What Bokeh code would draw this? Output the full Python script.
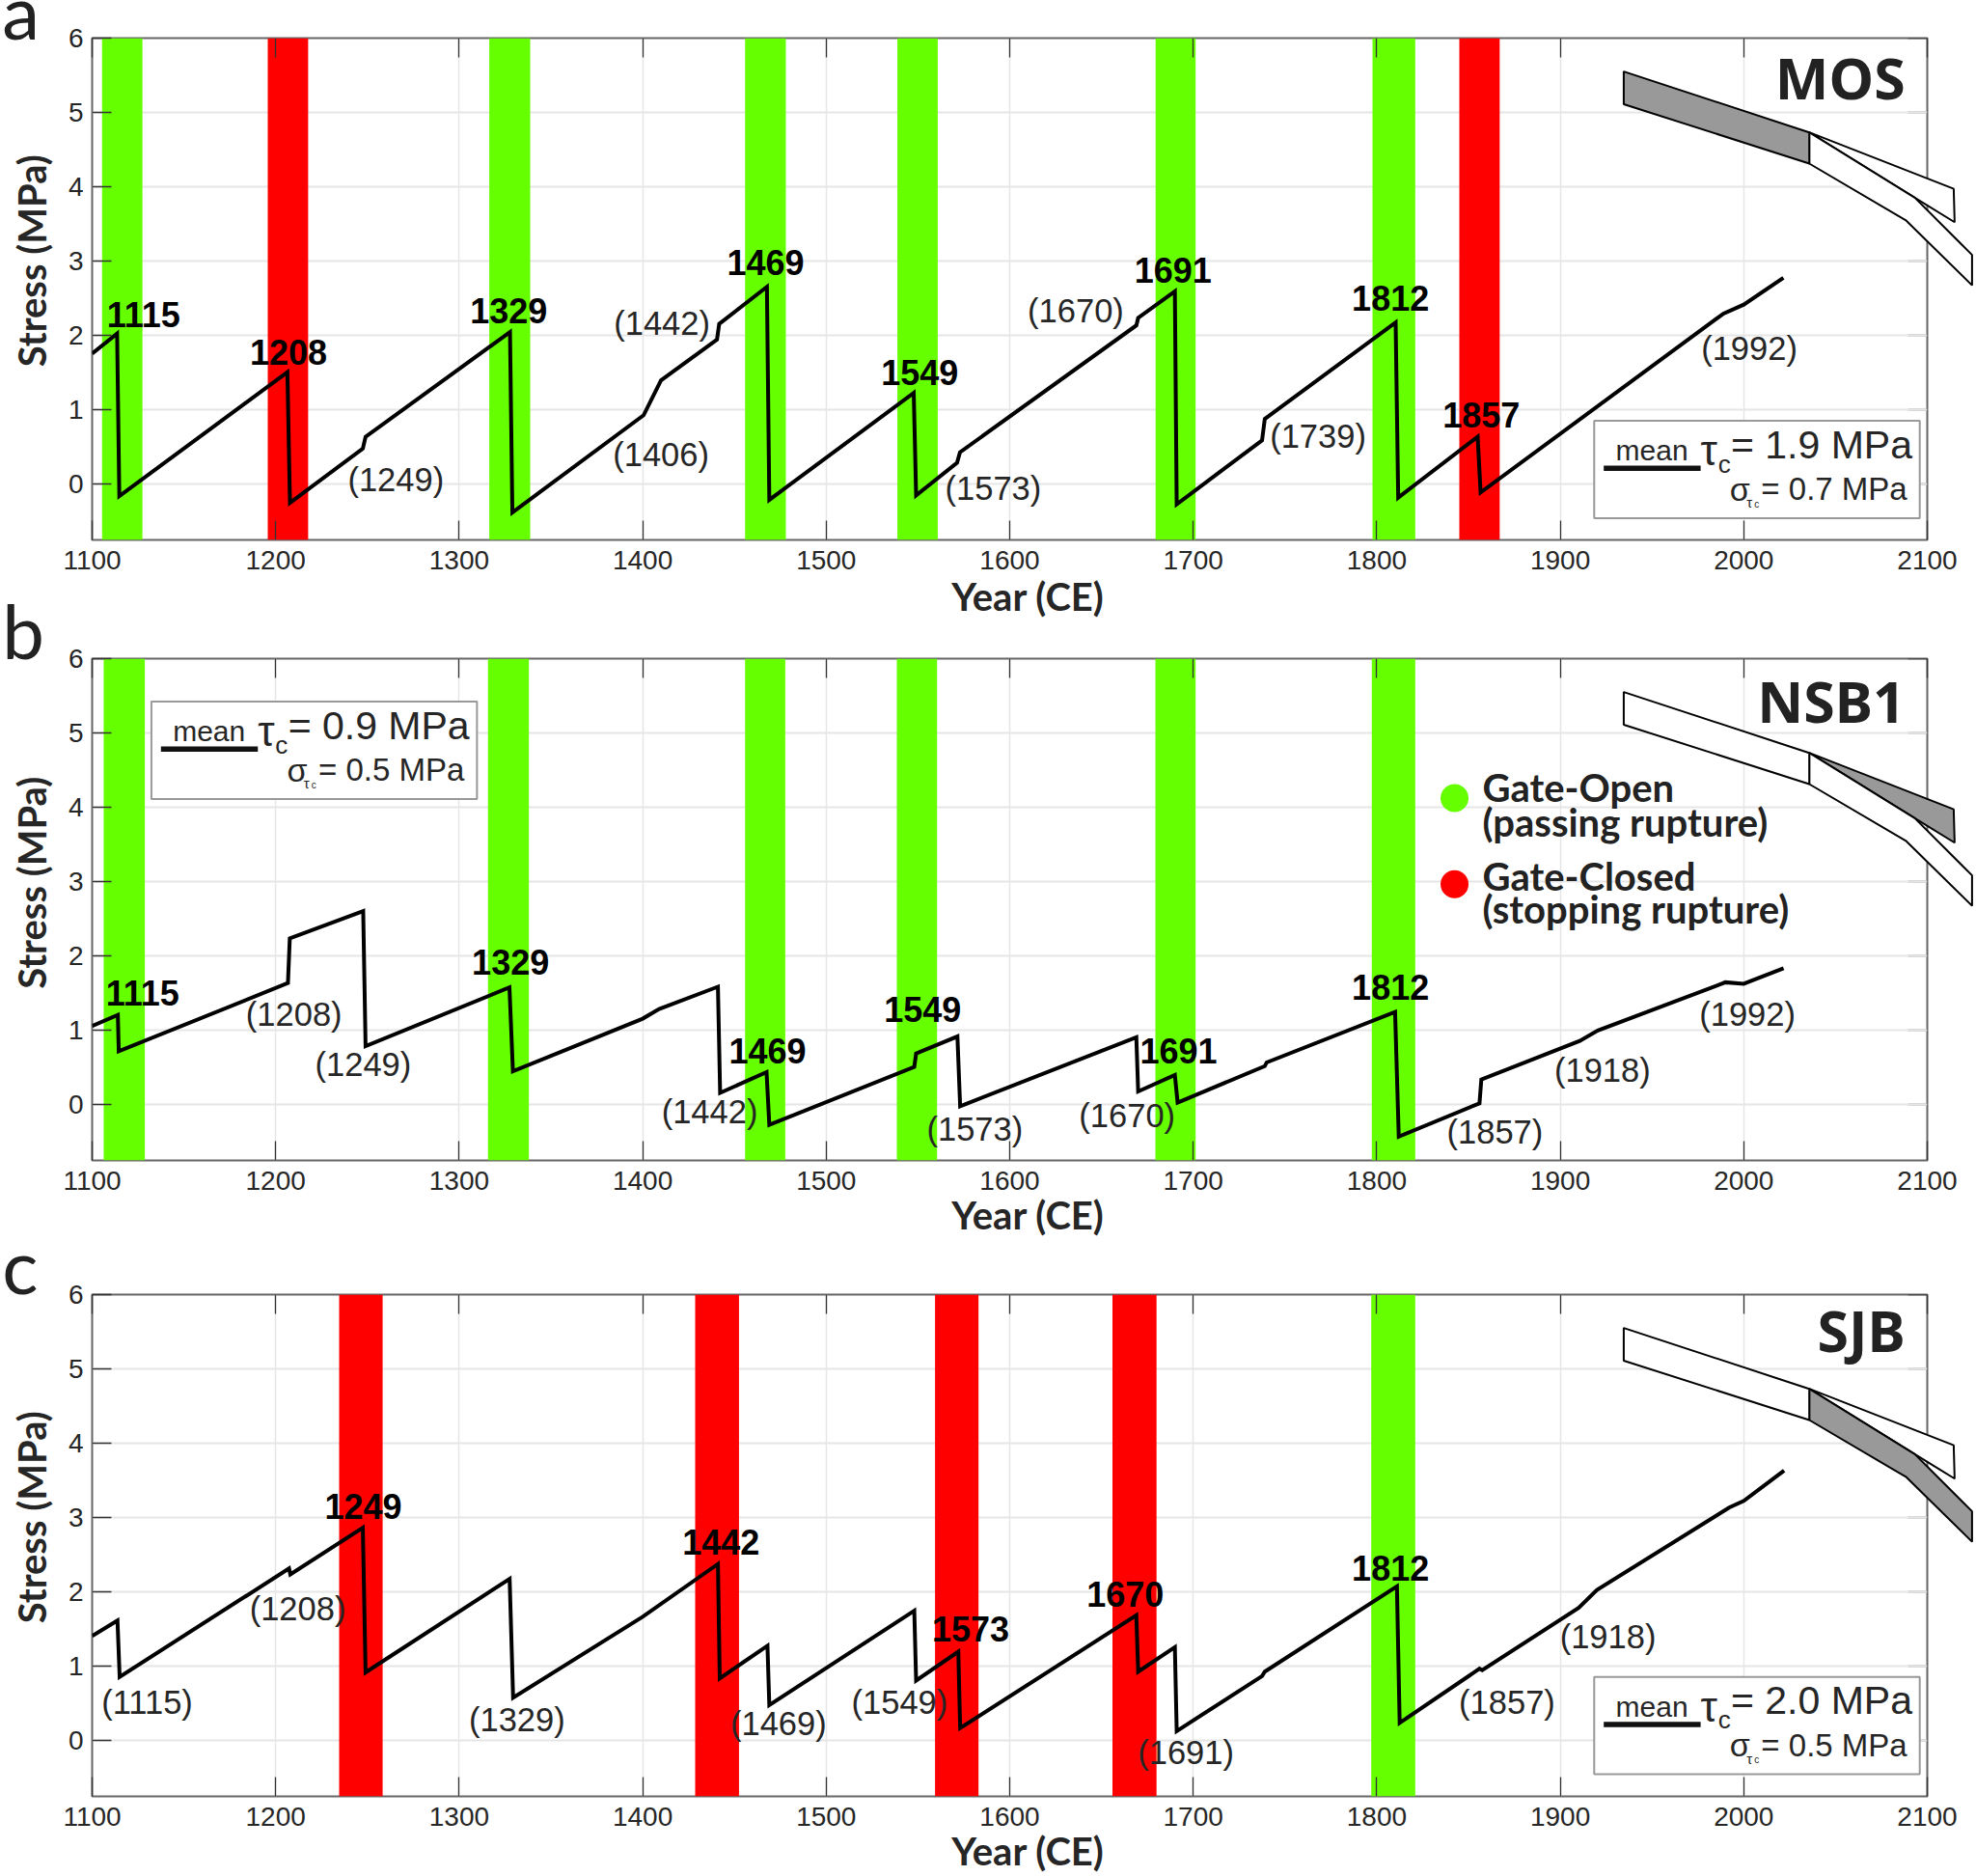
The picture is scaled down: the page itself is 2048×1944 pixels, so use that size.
from bokeh.plotting import figure
from bokeh.layouts import column
from bokeh.models import FixedTicker, LinearAxis, Range1d
from bokeh.core.properties import value
from bokeh.embed import file_html
from bokeh.resources import INLINE
import math

# ---------- data ----------
a_year = [1100,1113.6,1114.8,1206.4,1207.8,1247.5,1249,1327.7,1329,1400.5,1410,1440.5,1441.7,1467.7,1469,1547.7,1549,1571.3,1572.9,1669,1670,1690,1691,1737.5,1739,1810.3,1811.7,1855,1856.6,1989,2000,2021.6]
a_stress = [1.75,2.02,-0.17,1.5,-0.26,0.47,0.63,2.04,-0.39,0.92,1.39,1.94,2.15,2.65,-0.22,1.22,-0.16,0.28,0.42,2.13,2.23,2.59,-0.28,0.58,0.87,2.17,-0.19,0.63,-0.12,2.29,2.41,2.77]
b_year = [1100,1114,1114.5,1206.7,1207.7,1247.7,1249,1327.4,1329.3,1400,1409,1441,1442.2,1467.5,1469,1548,1549,1571.5,1573,1669,1670,1690,1691.5,1739,1740,1810,1812,1856,1857,1910.6,1920.5,1990,2000,2021.7]
b_stress = [1.05,1.2,0.71,1.63,2.23,2.6,0.78,1.57,0.44,1.15,1.28,1.58,0.15,0.43,-0.28,0.5,0.68,0.91,-0.03,0.9,0.17,0.39,0.02,0.51,0.56,1.24,-0.44,0.01,0.33,0.85,0.99,1.64,1.62,1.83]
c_year = [1100,1113.8,1115,1207.3,1208,1247.5,1249,1327.5,1329.4,1400,1441,1442,1468,1469,1548,1549,1572,1573,1669,1670,1690,1691,1737.5,1739,1811,1812.5,1856,1857.5,1910,1920,1992,2000,2022]
c_stress = [1.4,1.61,0.85,2.31,2.23,2.86,0.91,2.17,0.57,1.66,2.37,0.83,1.27,0.47,1.74,0.8,1.19,0.16,1.68,0.92,1.25,0.12,0.86,0.92,2.07,0.23,0.96,0.94,1.78,2.02,3.13,3.22,3.63]

a_green = [(1105.4,1127.4),(1316.4,1338.7),(1455.8,1478),(1538.8,1560.8),(1679.5,1701.3),(1797.7,1821)]
a_red = [(1195.7,1217.7),(1845,1867)]
b_green = [(1106.3,1128.7),(1315.7,1338),(1455.8,1477.7),(1538.5,1560.4),(1679.4,1701.3),(1797.3,1821)]
b_red = []
c_green = [(1797,1821)]
c_red = [(1234.6,1258.3),(1428.6,1452.5),(1559.3,1583),(1656,1680)]

a_bold = [("1115",1128,2.28),("1208",1207,1.77),("1329",1327,2.33),("1469",1467,2.98),("1549",1551,1.49),("1691",1689,2.87),("1812",1807.5,2.50),("1857",1857,0.92)]
a_norm = [("(1249)",1265.5,0.05),("(1406)",1410,0.39),("(1442)",1410.5,2.16),("(1573)",1591,-0.07),("(1670)",1636,2.33),("(1739)",1768,0.64),("(1992)",2003,1.82)]
b_bold = [("1115",1127.5,1.50),("1329",1328,1.91),("1469",1468,0.71),("1549",1552.6,1.28),("1691",1692,0.71),("1812",1807.5,1.57)]
b_norm = [("(1208)",1210,1.21),("(1249)",1247.7,0.54),("(1442)",1436.5,-0.10),("(1573)",1581,-0.34),("(1670)",1664,-0.15),("(1857)",1864.4,-0.38),("(1918)",1923,0.46),("(1992)",2002,1.21)]
c_bold = [("1249",1247.7,3.15),("1442",1442.7,2.67),("1573",1578.7,1.50),("1670",1663,1.97),("1812",1807.5,2.31)]
c_norm = [("(1115)",1130,0.51),("(1208)",1212,1.77),("(1329)",1331.5,0.27),("(1469)",1474,0.22),("(1549)",1540,0.51),("(1691)",1696,-0.17),("(1857)",1871,0.51),("(1918)",1926,1.39)]

west_x = [1934.6,2035.7,2035.7,1934.6]; west_y = [5.55,4.73,4.31,5.11]
upper_x = [2035.7,2114.4,2114.9,2093.2]; upper_y = [4.73,3.97,3.52,3.85]
lower_x = [2035.7,2093.2,2124.4,2124.4,2088.6,2035.7]; lower_y = [4.73,3.85,3.08,2.67,3.54,4.31]

x_ticks = list(range(1100, 2101, 100))
y_ticks = [0, 1, 2, 3, 4, 5, 6]
GREEN, RED, GRAY = "#66ff00", "#ff0000", "#999999"
SANS, HEAD = "Liberation Sans", "Lato"
XMIN, XMAX, YMIN, YMAX = 1100, 2100, -0.76, 6
LEFT, FW, FH, WIDTH = 95, 1902, 520, 2048


def panel(title, title_y, year, stress, green, red, bold, norm, key, top, bottom, margin_top=0):
    p = figure(frame_width=FW, frame_height=FH, min_border_left=LEFT, min_border_right=WIDTH-LEFT-FW,
               min_border_top=top, min_border_bottom=bottom, output_backend="svg", toolbar_location=None,
               x_range=Range1d(XMIN, XMAX), y_range=Range1d(YMIN, YMAX), margin=(margin_top, 0, 0, 0),
               frame_align=False)
    p.border_fill_color = None
    p.background_fill_color = "white"
    p.outline_line_color = "#666666"
    p.outline_line_width = 2
    p.grid.grid_line_color = "#e6e6e6"
    p.ygrid.grid_line_width = 2
    p.xgrid.grid_line_width = 1.5
    p.xgrid.ticker = FixedTicker(ticks=x_ticks)
    p.ygrid.ticker = FixedTicker(ticks=y_ticks)
    p.add_layout(LinearAxis(), "above")
    p.add_layout(LinearAxis(), "right")
    for ax in p.axis:
        ax.axis_line_color = None
        ax.major_tick_out = 0
        ax.major_tick_in = 20
        ax.major_tick_line_color = "#333333"
        ax.major_tick_line_width = 1.3
        ax.minor_tick_line_color = None
        ax.major_label_text_font = SANS
        ax.major_label_text_font_size = "28px"
        ax.major_label_text_color = "#262626"
    for ax in p.above + p.below:
        ax.ticker = FixedTicker(ticks=x_ticks)
    for ax in p.left + p.right:
        ax.ticker = FixedTicker(ticks=y_ticks)
    for ax in p.above:
        ax.major_label_overrides = {t: "" for t in x_ticks}
        ax.major_label_text_font_size = "1px"
        ax.major_label_standoff = 0
    for ax in p.right:
        ax.major_label_overrides = {t: "" for t in y_ticks}
        ax.major_label_text_font_size = "1px"
        ax.major_label_standoff = 0
        ax.level = "underlay"
    p.below[0].major_label_standoff = 11
    p.left[0].major_label_standoff = 9

    for items, colour in ((green, GREEN), (red, RED)):
        if items:
            p.quad(left=[i[0] for i in items], right=[i[1] for i in items], top=YMAX, bottom=YMIN,
                   fill_color=colour, line_color=None)
    p.line(year, stress, line_color="black", line_width=4, line_join="miter")

    for items, style, size in ((bold, "bold", "36px"), (norm, "normal", "34.5px")):
        p.text([i[1] for i in items], [i[2] for i in items], text=[i[0] for i in items],
               text_font=value(SANS), text_font_style=style, text_font_size=size,
               text_align="center", text_baseline="middle", text_color="black" if style == "bold" else "#262626")

    p.text([2088], [title_y], text=[title], text_font=value("Noto Sans"), text_font_style="bold", text_font_size="59px",
           text_align="right", text_baseline="middle", text_color="#222222")

    x0, y0, mean, sigma = key
    p.quad(left=[x0], right=[x0 + 177.4], top=[y0], bottom=[y0 - 1.31], fill_color="white", line_color=GRAY, line_width=2)
    p.line([x0 + 5.2, x0 + 58], [y0 - 0.64, y0 - 0.64], line_color="#111111", line_width=5.5)
    for txt, dx, dy, size in (("mean", 11.7, 0.40, "30px"), ("τ", 58, 0.40, "44px"), ("c", 67.5, 0.58, "26px"),
                              ("= %s MPa" % mean, 74.5, 0.32, "41px"), ("σ", 73.9, 0.92, "34px"), ("τ", 83, 1.10, "15px"),
                              ("c", 87.2, 1.12, "10px"), ("= %s MPa" % sigma, 91, 0.92, "33px")):
        p.text([x0 + dx], [y0 - dy], text=[txt], text_font=value(SANS), text_font_size=size,
               text_align="left", text_baseline="alphabetic", text_color="#262626")
    return p


def overlay(letter, letter_y, shaded, stress_y, year_y, top, bottom, extra=0):
    """Transparent full-canvas layer on the same year/stress scales, for what lies outside the frame."""
    height = top + extra + FH + bottom
    per_x = (XMAX - XMIN) / FW
    per_y = (YMAX - YMIN) / FH
    o = figure(frame_width=WIDTH, frame_height=height, min_border=0, output_backend="svg", toolbar_location=None,
               x_range=Range1d(XMIN - LEFT * per_x, XMAX + (WIDTH - LEFT - FW) * per_x),
               y_range=Range1d(YMIN - bottom * per_y, YMAX + (top + extra) * per_y),
               x_axis_type=None, y_axis_type=None, margin=(-height, 0, 0, 0), frame_align=False)
    o.grid.visible = False
    o.background_fill_color = None
    o.border_fill_color = None
    o.outline_line_color = None
    for name, xs, ys in (("upper", upper_x, upper_y), ("lower", lower_x, lower_y), ("west", west_x, west_y)):
        o.patch(xs, ys, fill_color=GRAY if name == shaded else "white", line_color="black", line_width=2)
    o.text([1051], [letter_y], text=[letter], text_font=value(HEAD), text_font_size="78px",
           text_baseline="alphabetic", text_color="#222222")
    o.text([1610], [year_y], text=["Year (CE)"], text_font=value(HEAD), text_font_style="bold", text_font_size="40px",
           text_align="center", text_baseline="middle", text_color="#262626")
    o.text([1067], [stress_y], text=["Stress (MPa)"], text_font=value(HEAD), text_font_style="bold", text_font_size="40px",
           text_align="center", text_baseline="middle", text_color="#262626", angle=math.pi / 2)
    return o


TOP_A, BOT_A, TOP_B, BOT_B, TOP_C, BOT_C = 39, 90, 58, 90, 49, 83

pa = panel("MOS", 5.47, a_year, a_stress, a_green, a_red, a_bold, a_norm, (1918.5, 0.844, "1.9", "0.7"), TOP_A, BOT_A)
pb = panel("NSB1", 5.44, b_year, b_stress, b_green, b_red, b_bold, b_norm, (1132.3, 5.42, "0.9", "0.5"), TOP_B, BOT_B, margin_top=-25)
pc = panel("SJB", 5.52, c_year, c_stress, c_green, c_red, c_bold, c_norm, (1918.5, 0.85, "2.0", "0.5"), TOP_C, BOT_C)

oa = overlay("a", 6.37, "west", 3.0, -1.52, TOP_A, BOT_A)
ob = overlay("b", 6.39, "upper", 2.98, -1.50, TOP_B, BOT_B, extra=50)
oc = overlay("c", 6.40, "lower", 3.0, -1.50, TOP_C, BOT_C, extra=50)

# gate legend in panel b
dots_y = [4.12, 2.96]
pb.scatter([1842.4, 1842.4], dots_y, size=29, fill_color=[GREEN, RED], line_color=None)
legend_text = ["Gate-Open", "(passing rupture)", "Gate-Closed", "(stopping rupture)"]
legend_y = [4.26, 3.80, 3.07, 2.63]
pb.text([1857.6] * 4, legend_y, text=legend_text, text_font=value(HEAD), text_font_style="bold",
        text_font_size="40px", text_align="left", text_baseline="middle", text_color="#222222")

page = column(pa, oa, pb, ob, pc, oc, spacing=0)
open("out.html", "w").write(file_html(page, INLINE))
